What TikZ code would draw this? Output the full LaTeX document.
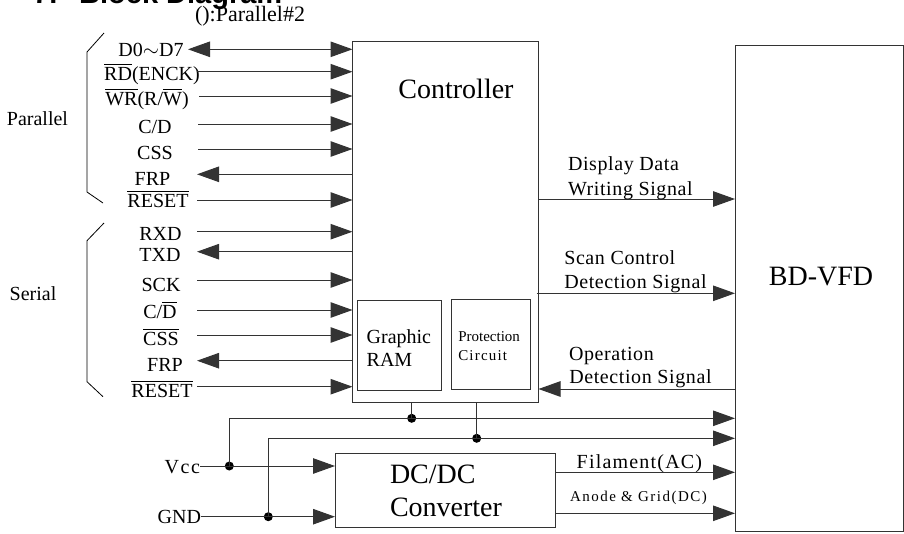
\documentclass[tikz,border=0pt]{standalone}
\usepackage{fontspec}
\setmainfont{Liberation Serif}
\newfontfamily\titlefont{Liberation Sans}
\usetikzlibrary{arrows.meta}
\newcommand\ovl[1]{\leavevmode\vbox{\hrule height 0.9pt\kern 1.6pt\hbox{#1}}}
\begin{document}
\begin{tikzpicture}[x=1pt,y=-1pt,
  ln/.style={draw=black!80, line width=1pt},
  arr/.style={ln, -{Triangle[length=22pt,width=15.5pt]}},
  darr/.style={ln, {Triangle[length=22pt,width=15.5pt]}-{Triangle[length=22pt,width=15.5pt]}},
  box/.style={draw=black!80, line width=1pt, inner sep=0pt, outer sep=0pt, anchor=north west},
  lbl/.style={inner sep=0pt, outer sep=0pt, anchor=base, font=\fontsize{20}{24}\selectfont},
  lbll/.style={lbl, anchor=base west},
  lblr/.style={lbl, anchor=base east},
  big/.style={lbl, font=\fontsize{28}{32}\selectfont},
  small/.style={lbll, font=\fontsize{15}{18}\selectfont},
  dot/.style={circle, fill=black, inner sep=0pt, minimum size=9pt},
  brk/.style={draw=black, line width=0.8pt}]
\useasboundingbox (0,0) rectangle (904,533);
\clip (0,0) rectangle (904,533);

% title (clipped at top)
\node[anchor=base west, inner sep=0pt, font=\titlefont\bfseries\fontsize{29}{30}\selectfont] (tnum) at (33,3.5) {7.};
\node[anchor=base west, inner sep=0pt, font=\titlefont\bfseries\fontsize{29}{30}\selectfont] (ttl) at (79,3.5) {Block Diagram};
\node[lbl, font=\fontsize{22}{24}\selectfont] (note) at (250,21.7) {():Parallel\#2};

% boxes
\node[box, minimum width=186pt, minimum height=361pt] (ctrl) at (352.5,41) {};
\node[box, minimum width=168pt, minimum height=486pt] (vfd) at (735,45) {};
\node[box, minimum width=84pt, minimum height=90.7pt] (ram) at (357.7,300) {};
\node[box, minimum width=79pt, minimum height=89.7pt] (prot) at (451.7,299.3) {};
\node[box, minimum width=220.7pt, minimum height=74.4pt] (dcdc) at (335,453.3) {};

\node[big] (ctrltxt) at (456,98.3) {Controller};
\node[big] (vfdtxt) at (821,285) {BD-VFD};
\node[big, anchor=base west] (dc1) at (390,483.3) {DC/DC};
\node[big, anchor=base west] (dc2) at (390,516.7) {Converter};
\node[lbll] (ram1) at (366.7,343.3) {Graphic};
\node[lbll] (ram2) at (366.7,366.7) {RAM};
\node[small] (pr1) at (458.3,341.7) {Protection};
\node[small] (pr2) at (458.3,360) {\addfontfeature{LetterSpace=8}Circuit};

% brackets
\draw[brk] (104,33) -- (87,52) -- (87,192) -- (103,203);
\draw[brk] (104,223) -- (87,240.7) -- (87,381.7) -- (103,396.7);
\node[lbl] (par) at (37.5,125) {Parallel};
\node[lbl] (ser) at (33,300) {Serial};

% parallel labels
\node[lbl] (p1) at (151,56.5) {D0$\sim$D7};
\node[lbl] (p2) at (152,80) {\ovl{RD}(ENCK)};
\node[lbl] (p3) at (147,105) {\ovl{WR}(R/\ovl{W})};
\node[lbl] (p4) at (155,133) {C/D};
\node[lbl] (p5) at (155,159) {CSS};
\node[lbl] (p6) at (152.5,185) {FRP};
\node[lbl] (p7) at (158,207) {\ovl{RESET}};

% serial labels
\node[lbl] (s1) at (160.5,240) {RXD};
\node[lbl] (s2) at (160,261.7) {TXD};
\node[lbl] (s3) at (161,291.7) {SCK};
\node[lbl] (s4) at (160,318) {C/\ovl{D}};
\node[lbl] (s5) at (161,345) {\ovl{CSS}};
\node[lbl] (s6) at (165,371) {FRP};
\node[lbl] (s7) at (162,397) {\ovl{RESET}};

% signal start points
\coordinate (a1) at (188,49.3);
\coordinate (a2) at (197,71.7);
\coordinate (a3) at (199,96);
\coordinate (a4) at (198,124);
\coordinate (a5) at (198,149);
\coordinate (a6) at (197,174.3);
\coordinate (a7) at (197,200);
\coordinate (b1) at (197,231.7);
\coordinate (b2) at (197,251.7);
\coordinate (b3) at (197,280);
\coordinate (b4) at (197,310);
\coordinate (b5) at (197,335);
\coordinate (b6) at (197,360.7);
\coordinate (b7) at (197,386.7);

\draw[darr] (a1) -- (a1 -| ctrl.west);
\draw[arr] (a2) -- (a2 -| ctrl.west);
\draw[arr] (a3) -- (a3 -| ctrl.west);
\draw[arr] (a4) -- (a4 -| ctrl.west);
\draw[arr] (a5) -- (a5 -| ctrl.west);
\draw[arr] (a6 -| ctrl.west) -- (a6);
\draw[arr] (a7) -- (a7 -| ctrl.west);
\draw[arr] (b1) -- (b1 -| ctrl.west);
\draw[arr] (b2 -| ctrl.west) -- (b2);
\draw[arr] (b3) -- (b3 -| ctrl.west);
\draw[arr] (b4) -- (b4 -| ctrl.west);
\draw[arr] (b5) -- (b5 -| ctrl.west);
\draw[arr] (b6 -| ctrl.west) -- (b6);
\draw[arr] (b7) -- (b7 -| ctrl.west);

% right side signals
\coordinate (r1) at (538.5,199);
\coordinate (r2) at (536.7,293.3);
\coordinate (r3) at (538.5,389);
\draw[arr] (r1) -- (r1 -| vfd.west);
\draw[arr] (r2) -- (r2 -| vfd.west);
\draw[arr] (r3 -| vfd.west) -- (r3);
\node[lbll] (dd1) at (568,170.7) {\addfontfeature{LetterSpace=3}Display Data};
\node[lbll] (dd2) at (568,195) {\addfontfeature{LetterSpace=3}Writing Signal};
\node[lbll] (sc1) at (564.3,264) {\addfontfeature{LetterSpace=3}Scan Control};
\node[lbll] (sc2) at (564.3,288.3) {\addfontfeature{LetterSpace=3}Detection Signal};
\node[lbll] (op1) at (569,360) {\addfontfeature{LetterSpace=3}Operation};
\node[lbll] (op2) at (569.3,383.3) {\addfontfeature{LetterSpace=3}Detection Signal};

% power
\node[lblr] (vcc) at (200,473.3) {\addfontfeature{LetterSpace=8}Vcc};
\node[lblr] (gnd) at (201,523.3) {GND};
\coordinate (vin) at (200,466);
\coordinate (gin) at (201,516.7);
\node[dot] (jv) at (229.3,466) {};
\node[dot] (jg) at (268.3,516.7) {};
\node[dot] (jc) at (411.7,418.3) {};
\node[dot] (jp) at (476.7,438.3) {};
\coordinate (bus1) at (229.3,418.3);
\coordinate (bus2) at (268.3,438.3);
\draw[arr] (vin) -- (vin -| dcdc.west);
\draw[arr] (gin) -- (gin -| dcdc.west);
\draw[ln] (jv.center) -- (bus1);
\draw[arr] (bus1) -- (bus1 -| vfd.west);
\draw[ln] (jg.center) -- (bus2);
\draw[arr] (bus2) -- (bus2 -| vfd.west);
\draw[ln] (jc.center) -- (jc |- ctrl.south);
\draw[ln] (jp.center) -- (jp |- ctrl.south);

\coordinate (f1) at (555.7,472.3);
\coordinate (f2) at (555.7,513.3);
\draw[arr] (f1) -- (f1 -| vfd.west);
\draw[arr] (f2) -- (f2 -| vfd.west);
\node[lbll] (fil) at (576.7,468.3) {\addfontfeature{LetterSpace=6}Filament(AC)};
\node[small] (ano) at (570,501.7) {\addfontfeature{LetterSpace=10}Anode \& Grid(DC)};
\end{tikzpicture}
\end{document}
